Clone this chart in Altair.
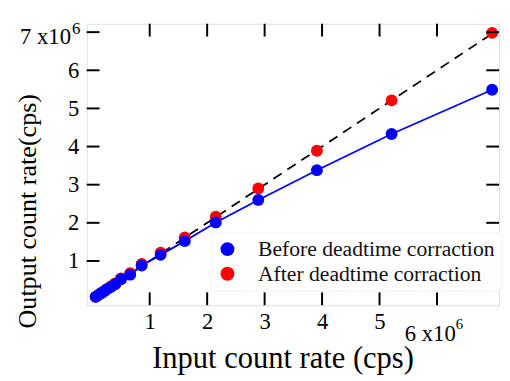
import altair as alt
import pandas as pd

# Data (values in units of 10^6 cps)
input_rate = [0.06, 0.11, 0.16, 0.21, 0.26, 0.33, 0.40, 0.50, 0.66, 0.86,
              1.19, 1.61, 2.15, 2.89, 3.91, 5.21, 6.96]
before_corr = [0.06, 0.11, 0.16, 0.21, 0.26, 0.32, 0.39, 0.52, 0.64, 0.88,
               1.16, 1.52, 2.01, 2.60, 3.38, 4.33, 5.49]
after_corr = [0.06, 0.11, 0.16, 0.21, 0.27, 0.34, 0.41, 0.54, 0.68, 0.92,
              1.22, 1.62, 2.16, 2.90, 3.89, 5.21, 6.98]
ideal_x = [0.0, 7.0]
ideal_y = [0.0, 7.0]
x_ticks = [1, 2, 3, 4, 5, 6]
y_ticks = [1, 2, 3, 4, 5, 6, 7]
series_names = ["Before deadtime corraction", "After deadtime corraction"]
series_colors = ["#0000ff", "#ff0000"]

FONT = "Liberation Serif"
W, H = 419, 286

rows = []
for xi, yi in zip(input_rate, after_corr):
    rows.append({"series": series_names[1], "x": xi, "y": yi})
for xi, yi in zip(input_rate, before_corr):
    rows.append({"series": series_names[0], "x": xi, "y": yi})
pts_df = pd.DataFrame(rows)
blue_df = pd.DataFrame({"x": input_rate, "y": before_corr})
ideal_df = pd.DataFrame({"x": ideal_x, "y": ideal_y})
xt_df = pd.DataFrame({"v": x_ticks})
yt_df = pd.DataFrame({"v": y_ticks})

xs = alt.Scale(domain=[-0.096, 7.08], nice=False, zero=False)
ys = alt.Scale(domain=[-0.16, 7.22], nice=False, zero=False)

x_axis = alt.Axis(values=[1, 2, 3, 4, 5], format="d", ticks=False, domain=False, grid=False,
                  labelFont=FONT, labelFontSize=23, labelColor="black",
                  labelPadding=6, title="Input count rate (cps)",
                  titleFont=FONT, titleFontSize=31, titleFontWeight="normal",
                  titleColor="black", titleX=199, titleY=63,
                  titleAlign="center", titleBaseline="alphabetic", titleAnchor="start")
y_axis = alt.Axis(values=[1, 2, 3, 4, 5, 6], format="d", ticks=False, domain=False, grid=False,
                  labelFont=FONT, labelFontSize=23, labelColor="black",
                  labelPadding=8,
                  title="Output count rate(cps)",
                  titleFont=FONT, titleFontSize=26.5, titleFontWeight="normal",
                  titleColor="black", titleAngle=270, titleX=-52, titleY=190,
                  titleAlign="center", titleBaseline="alphabetic", titleAnchor="start")

ideal = alt.Chart(ideal_df).mark_line(color="black", strokeDash=[10, 7], strokeWidth=1.8).encode(
    x=alt.X("x:Q", scale=xs, axis=x_axis),
    y=alt.Y("y:Q", scale=ys, axis=y_axis),
)

blue_line = alt.Chart(blue_df).mark_line(color="#0000ff", strokeWidth=1.8).encode(
    x=alt.X("x:Q", scale=xs), y=alt.Y("y:Q", scale=ys)
)

points = alt.Chart(pts_df).mark_circle(size=145, opacity=1).encode(
    x=alt.X("x:Q", scale=xs),
    y=alt.Y("y:Q", scale=ys),
    color=alt.Color("series:N",
                    scale=alt.Scale(domain=series_names, range=series_colors),
                    legend=alt.Legend(title=None, orient="none", legendX=126, legendY=212,
                                      symbolType="circle", symbolSize=200,
                                      symbolStrokeWidth=0, symbolOpacity=1,
                                      labelFont=FONT, labelFontSize=22, labelColor="#111",
                                      labelOffset=20, rowPadding=3, padding=6,
                                      fillColor="white", strokeColor="#f2f2f2",
                                      labelLimit=400)),
    order=alt.Order("series:N", sort="ascending"),
)

# inward ticks
tick_len = 13
bottom_ticks = alt.Chart(xt_df).mark_rule(color="black", strokeWidth=2).encode(
    x=alt.X("v:Q", scale=xs), y=alt.value(H), y2=alt.value(H - tick_len))
top_ticks = alt.Chart(xt_df).mark_rule(color="black", strokeWidth=2).encode(
    x=alt.X("v:Q", scale=xs), y=alt.value(0), y2=alt.value(tick_len))
left_ticks = alt.Chart(yt_df).mark_rule(color="black", strokeWidth=2).encode(
    y=alt.Y("v:Q", scale=ys), x=alt.value(0), x2=alt.value(tick_len))
right_ticks = alt.Chart(yt_df).mark_rule(color="black", strokeWidth=2).encode(
    y=alt.Y("v:Q", scale=ys), x=alt.value(W), x2=alt.value(W - tick_len))

# axis-multiplier annotations
y7 = alt.Chart(pd.DataFrame({"t": ["7 x10"]})).mark_text(
    font=FONT, fontSize=23, align="right", baseline="alphabetic", color="black").encode(
    text="t:N", x=alt.value(-16), y=alt.value(21))
y_sup = alt.Chart(pd.DataFrame({"t": ["6"]})).mark_text(
    font=FONT, fontSize=17, align="left", baseline="alphabetic", color="black").encode(
    text="t:N", x=alt.value(-15), y=alt.value(10))
x6 = alt.Chart(pd.DataFrame({"t": ["6 x10"], "v": [6]})).mark_text(
    font=FONT, fontSize=23, align="right", baseline="alphabetic", color="black", dx=19).encode(
    text="t:N", x=alt.X("v:Q", scale=xs), y=alt.value(343 - 21))
x_sup = alt.Chart(pd.DataFrame({"t": ["6"], "v": [6]})).mark_text(
    font=FONT, fontSize=15, align="left", baseline="alphabetic", color="black", dx=19).encode(
    text="t:N", x=alt.X("v:Q", scale=xs), y=alt.value(331 - 21))

chart = alt.layer(
    ideal, blue_line, points,
    bottom_ticks, top_ticks, left_ticks, right_ticks,
    y7, y_sup, x6, x_sup,
).properties(
    width=W, height=H,
    autosize=alt.AutoSizeParams(type="none"),
    padding={"left": 80, "top": 13, "right": 3, "bottom": 73},
).configure_view(
    stroke="black", strokeWidth=2
).configure(background="white")

chart.save("out.html", embed_options={"renderer": "svg", "actions": False})
